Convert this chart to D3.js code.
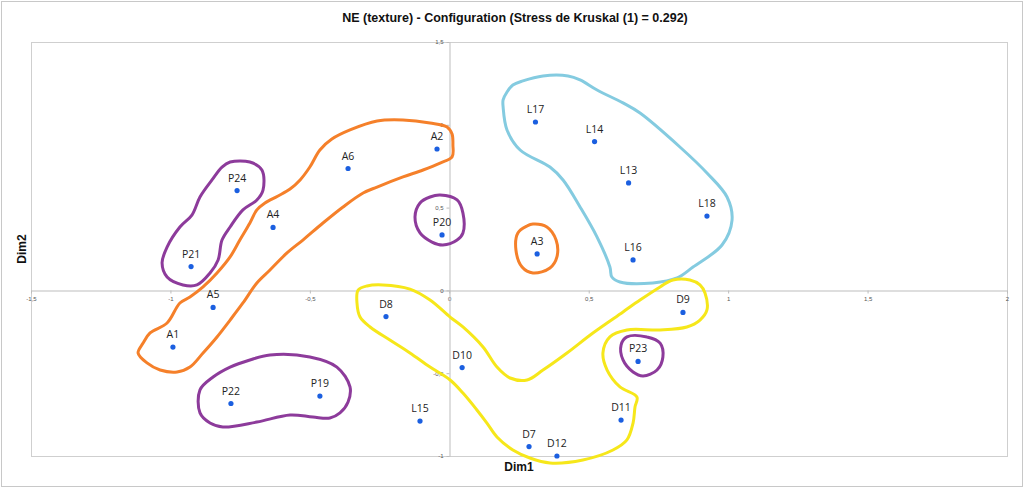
<!DOCTYPE html>
<html lang="fr">
<head>
<meta charset="utf-8">
<title>NE (texture) - Configuration</title>
<script src="https://d3js.org/d3.v7.min.js"></script>
<style>
  body { margin: 0; background: #fff; }
  svg { display: block; }
  .tick text { font-family: "Liberation Sans", Arial, sans-serif; font-size: 6px; fill: #555; }
  .tick line, .domain { stroke: #bdbdbd; }
</style>
</head>
<body>
<svg width="1024" height="488"></svg>
<script>
// point labels and coordinates (Dim1, Dim2)
const names = ["L17","L14","L13","L18","L16","A3","A2","A6","A4","P24","P21","P20",
               "A5","A1","P22","P19","D8","D10","L15","D7","D12","D11","P23","D9"];
const dim1 = [0.309,0.521,0.643,0.924,0.659,0.315,-0.044,-0.363,-0.632,-0.761,-0.926,-0.026,
              -0.847,-0.991,-0.783,-0.464,-0.227,0.046,-0.105,0.286,0.386,0.616,0.677,0.838];
const dim2 = [1.017,0.899,0.649,0.449,0.184,0.220,0.854,0.736,0.380,0.603,0.144,0.335,
              -0.103,-0.342,-0.683,-0.638,-0.158,-0.466,-0.789,-0.943,-1.000,-0.783,-0.429,-0.133];

const xTicks = [-1.5,-1,-0.5,0,0.5,1,1.5,2];
const yTicks = [-1,-0.5,0,0.5,1,1.5];

// hand drawn group outlines, in data units
const outlineL = [[0.193,1.150],[0.207,1.198],[0.228,1.240],[0.264,1.265],[0.336,1.295],[0.426,1.295],
  [0.469,1.271],[0.530,1.210],[0.623,1.132],[0.684,1.071],[0.827,0.866],[0.924,0.709],[0.996,0.564],
  [1.014,0.425],[0.978,0.274],[0.874,0.141],[0.817,0.075],[0.730,0.045],[0.612,0.051],[0.583,0.081],
  [0.576,0.141],[0.530,0.322],[0.469,0.504],[0.408,0.667],[0.361,0.745],[0.254,0.848],[0.207,0.969],
  [0.193,1.108]];
const outlineA = [[0.013,0.878],[0.010,0.806],[-0.033,0.769],[-0.094,0.727],[-0.166,0.685],[-0.259,0.624],
  [-0.309,0.588],[-0.381,0.504],[-0.453,0.407],[-0.525,0.304],[-0.582,0.226],[-0.643,0.123],[-0.690,0.045],
  [-0.740,-0.076],[-0.786,-0.179],[-0.833,-0.281],[-0.883,-0.378],[-0.930,-0.463],[-0.976,-0.493],
  [-1.037,-0.481],[-1.084,-0.438],[-1.116,-0.378],[-1.098,-0.318],[-1.073,-0.257],[-1.012,-0.197],
  [-0.966,-0.076],[-0.930,-0.040],[-0.883,0.021],[-0.833,0.105],[-0.786,0.202],[-0.751,0.304],
  [-0.715,0.407],[-0.690,0.486],[-0.661,0.528],[-0.614,0.570],[-0.571,0.612],[-0.535,0.667],
  [-0.500,0.745],[-0.464,0.848],[-0.421,0.914],[-0.356,0.969],[-0.259,1.023],[-0.166,1.029],
  [-0.069,1.011],[-0.008,0.987],[0.010,0.944]];
const outlineA3 = [[0.300,0.401],[0.350,0.383],[0.383,0.304],[0.386,0.202],[0.361,0.135],[0.300,0.105],
  [0.261,0.141],[0.239,0.244],[0.246,0.347],[0.279,0.389]];
const outlineP24 = [[-0.786,0.775],[-0.715,0.775],[-0.672,0.727],[-0.668,0.606],[-0.690,0.546],
  [-0.740,0.486],[-0.786,0.383],[-0.815,0.304],[-0.829,0.184],[-0.858,0.105],[-0.905,0.033],
  [-0.955,0.033],[-1.012,0.081],[-1.030,0.165],[-1.012,0.262],[-0.966,0.383],[-0.923,0.455],
  [-0.894,0.564],[-0.851,0.667],[-0.815,0.745]];
const outlineP20 = [[-0.033,0.576],[0.028,0.546],[0.049,0.467],[0.049,0.347],[0.028,0.304],[-0.023,0.274],
  [-0.062,0.292],[-0.105,0.347],[-0.123,0.443],[-0.105,0.528],[-0.069,0.564]];
const outlineP22 = [[-0.643,-0.390],[-0.500,-0.402],[-0.403,-0.463],[-0.356,-0.583],[-0.363,-0.674],
  [-0.392,-0.740],[-0.428,-0.771],[-0.489,-0.765],[-0.571,-0.752],[-0.690,-0.795],[-0.812,-0.825],
  [-0.858,-0.801],[-0.894,-0.740],[-0.894,-0.601],[-0.847,-0.523],[-0.786,-0.463],[-0.715,-0.420]];
const outlineP23 = [[0.637,-0.281],[0.709,-0.281],[0.756,-0.318],[0.766,-0.402],[0.745,-0.481],
  [0.695,-0.517],[0.659,-0.493],[0.623,-0.420],[0.616,-0.330]];
const outlineD = [[-0.327,0.002],[-0.295,0.027],[-0.238,0.033],[-0.141,0.008],[-0.069,-0.058],[0.003,-0.161],
  [0.049,-0.221],[0.121,-0.342],[0.171,-0.463],[0.218,-0.529],[0.279,-0.541],[0.336,-0.481],[0.422,-0.378],
  [0.515,-0.257],[0.623,-0.130],[0.684,-0.058],[0.756,0.021],[0.802,0.063],[0.863,0.063],[0.899,0.033],
  [0.917,-0.016],[0.924,-0.118],[0.899,-0.179],[0.852,-0.221],[0.756,-0.239],[0.637,-0.239],[0.576,-0.281],
  [0.551,-0.378],[0.566,-0.481],[0.612,-0.583],[0.673,-0.644],[0.666,-0.704],[0.659,-0.801],[0.637,-0.903],
  [0.587,-0.964],[0.479,-1.024],[0.361,-1.042],[0.289,-1.012],[0.228,-0.964],[0.171,-0.885],[0.135,-0.801],
  [0.099,-0.722],[0.049,-0.620],[0.003,-0.541],[-0.069,-0.463],[-0.141,-0.378],[-0.213,-0.300],
  [-0.284,-0.221],[-0.320,-0.161],[-0.331,-0.076]];

const groups = [
  {pts: outlineL, color: "#84cbe0"},
  {pts: outlineA, color: "#f5802a"},
  {pts: outlineA3, color: "#f5802a"},
  {pts: outlineP24, color: "#8d3b9b"},
  {pts: outlineP20, color: "#8d3b9b"},
  {pts: outlineP22, color: "#8d3b9b"},
  {pts: outlineP23, color: "#8d3b9b"},
  {pts: outlineD, color: "#f6e71a"}
];

const svg = d3.select("svg");
const W = 1024, H = 488;
const mLeft = 31, mRight = 1007, mTop = 42, mBottom = 456;

const x = d3.scaleLinear().domain([-1.5, 2]).range([mLeft, mRight]);
const y = d3.scaleLinear().domain([-1, 1.5]).range([mBottom, mTop]);

const fr = d3.formatLocale({decimal: ",", thousands: " ", grouping: [3], currency: ["", ""], minus: "-"});
const fmt = fr.format("~g");

// outer frame
svg.append("rect").attr("x", 1.5).attr("y", 1.5).attr("width", W - 3).attr("height", H - 3)
   .attr("fill", "#fff").attr("stroke", "#c8c8c8");

// title
svg.append("text").attr("x", 515).attr("y", 22).attr("text-anchor", "middle")
   .style("font-family", "'Liberation Sans', Arial, sans-serif")
   .style("font-weight", "bold").style("font-size", "12.5px").style("fill", "#111")
   .text("NE (texture) - Configuration (Stress de Kruskal (1) = 0.292)");

// plot frame
svg.append("rect").attr("x", mLeft + 0.5).attr("y", mTop + 0.5)
   .attr("width", mRight - mLeft).attr("height", mBottom - mTop)
   .attr("fill", "none").attr("stroke", "#cfcfcf");

// axes through the origin
svg.append("g").attr("transform", `translate(0,${Math.round(y(0)) + 0.5})`)
   .call(d3.axisBottom(x).tickValues(xTicks).tickFormat(fmt).tickSize(3).tickSizeOuter(0).tickPadding(3));
svg.append("g").attr("transform", `translate(${Math.round(x(0)) + 0.5},0)`)
   .call(d3.axisLeft(y).tickValues(yTicks).tickFormat(fmt).tickSize(3).tickSizeOuter(0).tickPadding(3));

// axis titles
svg.append("text").attr("x", (mLeft + mRight) / 2).attr("y", 471).attr("text-anchor", "middle")
   .style("font-family", "'Liberation Sans', Arial, sans-serif").style("font-weight", "bold")
   .style("font-size", "12px").style("fill", "#111").text("Dim1");
svg.append("text").attr("transform", `translate(26,${(mTop + mBottom) / 2}) rotate(-90)`)
   .attr("text-anchor", "middle")
   .style("font-family", "'Liberation Sans', Arial, sans-serif").style("font-weight", "bold")
   .style("font-size", "12px").style("fill", "#111").text("Dim2");

// points
const pts = names.map((n, i) => ({name: n, d1: dim1[i], d2: dim2[i]}));

svg.append("g").selectAll("circle").data(pts).enter().append("circle")
   .attr("cx", d => x(d.d1)).attr("cy", d => y(d.d2)).attr("r", 2.6)
   .attr("fill", "#1b5fe0");

svg.append("g").selectAll("text").data(pts).enter().append("text")
   .attr("x", d => x(d.d1)).attr("y", d => y(d.d2) - 9)
   .attr("text-anchor", "middle")
   .style("font-family", "'Open Sans', sans-serif").style("font-size", "10.5px").style("fill", "#222")
   .text(d => d.name);

// hand drawn outlines
const line = d3.line().x(d => x(d[0])).y(d => y(d[1])).curve(d3.curveCatmullRomClosed.alpha(0.5));
svg.append("g").selectAll("path").data(groups).enter().append("path")
   .attr("d", d => line(d.pts))
   .attr("fill", "none").attr("stroke", d => d.color)
   .attr("stroke-width", 3).attr("stroke-linejoin", "round");
</script>
</body>
</html>
